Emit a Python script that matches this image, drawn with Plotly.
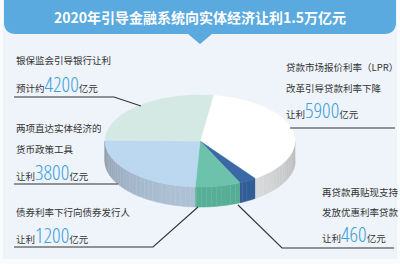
import numpy as np
import plotly.graph_objects as go

# ---- data ----
categories = ["LPR改革", "再贷款再贴现", "债券利率下行", "两项直达工具", "银保监会引导银行"]
values = [5900, 460, 1200, 3800, 4200]
top_colors = ["#ffffff", "#3b68a6", "#6cc2aa", "#bcd8f0", "#d4e8e4"]
side_colors = ["#e2e3e5", "#33609a", "#58b097", "#aec2d6", "#b4cfc9"]
title_text = "2020年引导金融系统向实体经济让利1.5万亿元"

# ---- geometry of the tilted pie ----
CX, CY, RX, RY, DEPTH = 200, 141, 95, 46, 20
START = 82.0  # degrees, slices go clockwise


def arc(t1, t2, dy=0.0, step=1.0):
    n = max(2, int(abs(t1 - t2) / step) + 1)
    t = np.radians(np.linspace(t1, t2, n))
    return CX + RX * np.cos(t), CY - RY * np.sin(t) + dy


def shade(hexc, f):
    r, g, b = int(hexc[1:3], 16), int(hexc[3:5], 16), int(hexc[5:7], 16)
    return "rgb(%d,%d,%d)" % (r * f, g * f, b * f)


fig = go.Figure()

total = float(sum(values))
cum = np.concatenate([[0], np.cumsum(values)]) / total
bounds = [(START - 360 * cum[i], START - 360 * cum[i + 1]) for i in range(len(values))]

# side walls (front half only: angles between -180 and 0)
for i, (t1, t2) in enumerate(bounds):
    a, b = min(t1, 0), max(t2, -180)
    if a <= b:
        continue
    edges = np.arange(a, b, -3.0).tolist() + [b]
    for ta, tb in zip(edges[:-1], edges[1:]):
        tm = np.radians((ta + tb) / 2)
        f = 0.8 + 0.2 * max(0.0, -np.sin(tm))
        col = shade(side_colors[i], f)
        xt, yt = arc(ta, tb, 0, 0.5)
        xb, yb = arc(tb, ta, DEPTH, 0.5)
        fig.add_trace(go.Scatter(
            x=np.concatenate([xt, xb]), y=np.concatenate([yt, yb]),
            mode="lines", fill="toself", fillcolor=col,
            line=dict(color=col, width=0.6), hoverinfo="skip"))

# top faces
for i, (t1, t2) in enumerate(bounds):
    xa, ya = arc(t1, t2)
    fig.add_trace(go.Scatter(
        x=np.concatenate([[CX], xa, [CX]]), y=np.concatenate([[CY], ya, [CY]]),
        mode="lines", fill="toself", fillcolor=top_colors[i],
        line=dict(color=top_colors[i], width=0.6), hoverinfo="skip",
        name=categories[i]))

# leader lines
leaders = [
    ([14, 114, 141], [97, 97, 106]),
    ([14, 118], [184, 184]),
    ([14, 153, 198], [247, 247, 207]),
    ([290, 395], [128, 128]),
    ([238, 282, 394], [205, 248, 248]),
]
for lx, ly in leaders:
    fig.add_trace(go.Scatter(x=lx, y=ly, mode="lines",
                             line=dict(color="#333333", width=1.1), hoverinfo="skip"))

NUM = ("<span style='font-family:Open Sans;font-stretch:75%%;font-weight:300;"
       "font-size:21px;color:#3d9fdb'>%s</span>")
labels = [
    (14, 60, "银保监会引导银行让利"),
    (14, 84, "预计约" + NUM % "4200" + "亿元"),
    (14, 128, "两项直达实体经济的"),
    (14, 149, "货币政策工具"),
    (14, 172, "让利" + NUM % "3800" + "亿元"),
    (14, 212, "债券利率下行向债券发行人"),
    (14, 235, "让利" + NUM % "1200" + "亿元"),
    (284, 67, "贷款市场报价利率（LPR）"),
    (284, 88, "改革引导贷款利率下降"),
    (284, 110, "让利" + NUM % "5900" + "亿元"),
    (320, 192, "再贷款再贴现支持"),
    (320, 212, "发放优惠利率贷款"),
    (320, 234, "让利" + NUM % "460" + "亿元"),
]
annotations = [dict(x=x, y=y, text=t, showarrow=False, xanchor="left", yanchor="middle",
                    xref="x", yref="y",
                    font=dict(family="Noto Sans CJK SC", size=9.5, color="#333333"))
               for x, y, t in labels]
annotations.append(dict(x=200, y=17, text="<b>" + title_text + "</b>", showarrow=False,
                        xanchor="center", yanchor="middle", xref="x", yref="y",
                        font=dict(family="Noto Sans CJK SC", size=14, color="#ffffff")))

shapes = [
    dict(type="path", xref="x", yref="y", layer="below",
         path="M 3,0 L 397,0 L 397,259 L 3,259 Z",
         fillcolor="#eef4fa", line=dict(width=0)),
    dict(type="path", xref="x", yref="y", layer="below",
         path="M 4,0 L 396,0 L 396,22 Q 396,34 384,34 L 212,34 L 200,44 L 188,34 "
              "L 16,34 Q 4,34 4,22 Z",
         fillcolor="#5aaae0", line=dict(width=0)),
]

fig.update_layout(
    width=400, height=264, margin=dict(l=0, r=0, t=0, b=0),
    paper_bgcolor="#f9fbfd", plot_bgcolor="rgba(0,0,0,0)",
    showlegend=False,
    xaxis=dict(range=[0, 400], visible=False, fixedrange=True),
    yaxis=dict(range=[264, 0], visible=False, fixedrange=True),
    annotations=annotations, shapes=shapes,
)

fig.write_html("out.html")
